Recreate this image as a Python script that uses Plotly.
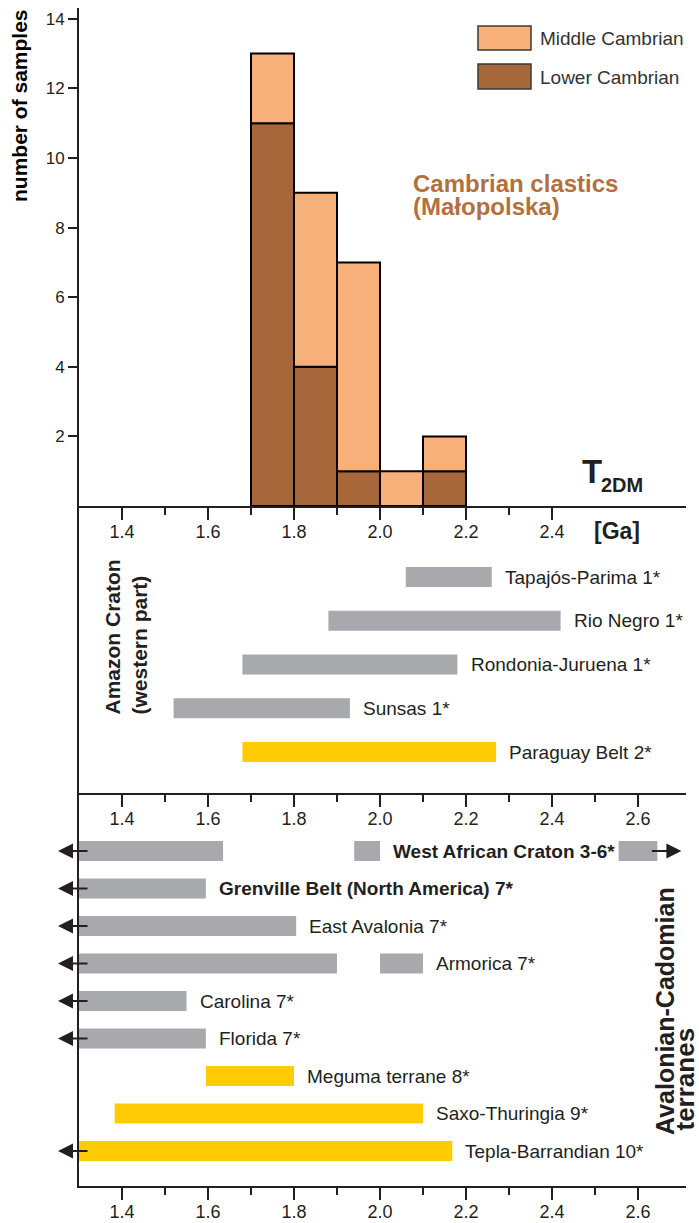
import plotly.graph_objects as go

# ---------------- data ----------------
bin_start = [1.7, 1.8, 1.9, 2.0, 2.1]
bin_width = 0.1
lower_cambrian = [11, 4, 1, 0, 1]
middle_cambrian = [2, 5, 6, 1, 1]

amazon_names = ["Tapajós-Parima 1*", "Rio Negro 1*", "Rondonia-Juruena 1*",
                "Sunsas 1*", "Paraguay Belt 2*"]
amazon_start = [2.06, 1.88, 1.68, 1.52, 1.68]
amazon_end = [2.26, 2.42, 2.18, 1.93, 2.27]
amazon_yellow = [False, False, False, False, True]

terrane_names = ["West African Craton 3-6*", "Grenville Belt (North America) 7*",
                 "East Avalonia 7*", "Armorica 7*", "Carolina 7*", "Florida 7*",
                 "Meguma terrane 8*", "Saxo-Thuringia 9*", "Tepla-Barrandian 10*"]
terrane_start = [1.3, 1.3, 1.3, 1.3, 1.3, 1.3, 1.595, 1.383, 1.3]
terrane_end = [1.635, 1.595, 1.805, 1.90, 1.55, 1.595, 1.80, 2.10, 2.168]
terrane_yellow = [False, False, False, False, False, False, True, True, True]
terrane_bold = [True, True, False, False, False, False, False, False, False]
terrane_open_left = [True, True, True, True, True, True, False, False, True]
# additional separate segments of some rows
extra_row = ["West African Craton 3-6*", "Armorica 7*", "West African Craton 3-6*"]
extra_start = [1.94, 2.0, 2.555]
extra_end = [2.0, 2.10, 2.645]
extra_open_right = [False, False, True]

top_ticks = [1.4, 1.6, 1.8, 2.0, 2.2, 2.4]
low_ticks = [1.4, 1.6, 1.8, 2.0, 2.2, 2.4, 2.6]
top_minor = [1.5, 1.7, 1.9, 2.1, 2.3]
low_minor = [1.5, 1.7, 1.9, 2.1, 2.3, 2.5]
count_ticks = [2, 4, 6, 8, 10, 12, 14]

# ---------------- style / layout ----------------
GRAY = "#a7a9ac"
YELLOW = "#ffcb05"
BROWN = "#a6683a"
LIGHT = "#f8b07b"
INK = "#231f20"
TITLE_C = "#b3703d"
FONT = "Liberation Sans, Arial, sans-serif"

W, H = 699, 1223
L, R, T, B = 79, 13, 8, 37
PX_PER_GA = 430.0
XMIN = 1.3
XMAX = XMIN + (W - L - R) / PX_PER_GA
PH = H - T - B
PW = W - L - R


def dom(top_px, bot_px):
    return [(H - B - bot_px) / PH, (H - B - top_px) / PH]


def px(xp):
    return (xp - L) / PW


def py(yp):
    return (H - B - yp) / PH


TOP = (8, 506)
MID = (506, 793)
BOT = (793, 1186)
COUNT_PX = 34.8
MID_ROW_PX = 43.75
BOT_ROW_PX = 37.5

fig = go.Figure()

# histogram
centers = [s + bin_width / 2 for s in bin_start]
fig.add_trace(go.Bar(x=centers, y=lower_cambrian, width=bin_width,
                     marker=dict(color=BROWN, line=dict(color="#000", width=2)),
                     xaxis="x", yaxis="y", name="Lower Cambrian", showlegend=False))
fig.add_trace(go.Bar(x=centers, y=middle_cambrian, base=lower_cambrian, width=bin_width,
                     marker=dict(color=LIGHT, line=dict(color="#000", width=2)),
                     xaxis="x", yaxis="y", name="Middle Cambrian", showlegend=False))

# amazon craton bars
n_mid = len(amazon_names)
mid_idx = [n_mid - 1 - i for i in range(n_mid)]
fig.add_trace(go.Bar(orientation="h", y=mid_idx,
                     x=[e - s for s, e in zip(amazon_start, amazon_end)],
                     base=amazon_start, width=20 / MID_ROW_PX,
                     marker=dict(color=[YELLOW if yl else GRAY for yl in amazon_yellow],
                                 line=dict(width=0)),
                     xaxis="x2", yaxis="y2", showlegend=False))

# terranes bars
n_bot = len(terrane_names)
bot_idx = {nm: n_bot - 1 - i for i, nm in enumerate(terrane_names)}
ys = [bot_idx[n] for n in terrane_names] + [bot_idx[n] for n in extra_row]
st = terrane_start + extra_start
en = terrane_end + extra_end
cols = [YELLOW if yl else GRAY for yl in terrane_yellow] + \
       [YELLOW if terrane_yellow[terrane_names.index(n)] else GRAY for n in extra_row]
fig.add_trace(go.Bar(orientation="h", y=ys, x=[e - s for s, e in zip(st, en)], base=st,
                     width=20 / BOT_ROW_PX,
                     marker=dict(color=cols, line=dict(width=0)),
                     xaxis="x3", yaxis="y3", showlegend=False))

ann = []
GAP = 0.026
for i, nm in enumerate(amazon_names):
    ann.append(dict(x=amazon_end[i] + GAP, y=mid_idx[i], xref="x2", yref="y2", text=nm,
                    showarrow=False, xanchor="left", yanchor="middle",
                    font=dict(size=19, color=INK, family=FONT)))

ARROW = dict(text="", showarrow=True, arrowhead=2, arrowsize=1.5, arrowwidth=2,
             arrowcolor=INK, ay=0, ayref="pixel", axref="pixel")
for i, nm in enumerate(terrane_names):
    end_label = terrane_end[i]
    for rn, s, e, orr in zip(extra_row, extra_start, extra_end, extra_open_right):
        if rn == nm and not orr:
            end_label = max(end_label, e)
    txt = f"<b>{nm}</b>" if terrane_bold[i] else nm
    ann.append(dict(x=end_label + GAP, y=bot_idx[nm], xref="x3", yref="y3", text=txt,
                    showarrow=False, xanchor="left", yanchor="middle",
                    font=dict(size=19, color=INK, family=FONT)))
    if terrane_open_left[i]:
        ann.append(dict(x=px(L - 21), y=bot_idx[nm], xref="paper", yref="y3", ax=31, **ARROW))

for rn, s, e, orr in zip(extra_row, extra_start, extra_end, extra_open_right):
    if orr:
        ann.append(dict(x=e + 24 / PX_PER_GA, y=bot_idx[rn], xref="x3", yref="y3", ax=-31,
                        **ARROW))


def txt(xp, yp, text, size, color=INK, angle=0, xa="left", ya="middle"):
    return dict(x=px(xp), y=py(yp), xref="paper", yref="paper", text=text,
                textangle=angle, xanchor=xa, yanchor=ya, showarrow=False,
                font=dict(size=size, color=color, family=FONT))


ann += [
    txt(19, 106, "<b>number of samples</b>", 21, "#000", -90, "center", "middle"),
    txt(411, 183, "<b>Cambrian clastics</b>", 24, TITLE_C),
    txt(411, 206, "<b>(Małopolska)</b>", 24, TITLE_C),
    txt(538, 38, "Middle Cambrian", 19, "#333"),
    txt(538, 77, "Lower Cambrian", 19, "#333"),
    txt(580, 471, "<b>T</b>", 33),
    txt(599, 485, "<b>2DM</b>", 20),
    txt(592, 531, "<b>[Ga]</b>", 23),
    txt(112, 717, "<b>Amazon Craton</b>", 21, INK, -90, "center", "bottom"),
    txt(139, 717, "<b>(western part)</b>", 21, INK, -90, "center", "bottom"),
    txt(665, 1137, "<b>Avalonian-Cadomian</b>", 25, INK, -90, "center", "bottom"),
    txt(684, 1133, "<b>terranes</b>", 26, INK, -90, "center", "bottom"),
]

shapes = [
    dict(type="rect", xref="paper", yref="paper", x0=px(478), x1=px(531), y0=py(50), y1=py(26),
         fillcolor=LIGHT, line=dict(color="#3a3a3a", width=1.5)),
    dict(type="rect", xref="paper", yref="paper", x0=px(478), x1=px(531), y0=py(89), y1=py(64),
         fillcolor=BROWN, line=dict(color="#3a3a3a", width=1.5)),
]


def xax(anchor, tv, mv):
    return dict(anchor=anchor, range=[XMIN, XMAX], showline=True, linecolor=INK, linewidth=2,
                ticks="outside", ticklen=12, tickwidth=1.5, tickcolor=INK,
                tickvals=tv, ticktext=[f"{v:.1f}" for v in tv],
                tickfont=dict(size=18, color=INK, family=FONT), ticklabelstandoff=-4,
                showgrid=False, zeroline=False, automargin=False,
                minor=dict(tickmode="array", tickvals=mv, ticks="outside", ticklen=7,
                           tickwidth=1.5, tickcolor=INK, showgrid=False))


def yrow(d, rng):
    return dict(domain=d, range=rng, showline=True, linecolor=INK, linewidth=2,
                showticklabels=False, ticks="", showgrid=False, zeroline=False,
                automargin=False)


mid_lo = -(MID[1] - 752) / MID_ROW_PX
mid_hi = mid_lo + (MID[1] - MID[0]) / MID_ROW_PX
bot_lo = -(BOT[1] - 1151) / BOT_ROW_PX
bot_hi = bot_lo + (BOT[1] - BOT[0]) / BOT_ROW_PX

fig.update_layout(
    width=W, height=H, margin=dict(l=L, r=R, t=T, b=B, autoexpand=False),
    paper_bgcolor="white", plot_bgcolor="white", barmode="overlay",
    font=dict(family=FONT, color=INK),
    xaxis=xax("y", top_ticks, top_minor),
    xaxis2=xax("y2", low_ticks, low_minor),
    xaxis3=xax("y3", low_ticks, low_minor),
    yaxis=dict(domain=dom(*TOP), range=[0, (TOP[1] - TOP[0]) / COUNT_PX], showline=True,
               linecolor=INK, linewidth=2, ticks="outside", ticklen=9, tickwidth=1.5,
               tickcolor=INK, tickvals=count_ticks,
               tickfont=dict(size=17, color=INK, family=FONT),
               showgrid=False, zeroline=False, automargin=False),
    yaxis2=yrow(dom(*MID), [mid_lo, mid_hi]),
    yaxis3=yrow(dom(*BOT), [bot_lo, bot_hi]),
    annotations=ann, shapes=shapes, showlegend=False,
)

fig.write_html("out.html")
